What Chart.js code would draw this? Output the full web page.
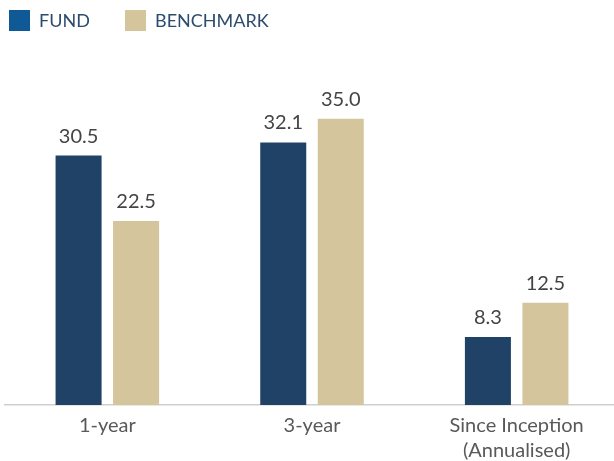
<!DOCTYPE html>
<html>
<head>
<meta charset="utf-8">
<script src="https://cdn.jsdelivr.net/npm/chart.js@4"></script>
<style>
  html, body { margin: 0; padding: 0; background: #fff; overflow: hidden; }
  #wrap { width: 619px; height: 461px; position: relative; }
</style>
</head>
<body>
<div id="wrap"><canvas id="perfChart"></canvas></div>
<script>
// data
var categories = [['1-year'], ['3-year'], ['Since Inception', '(Annualised)']];
var fundValues = [30.5, 32.1, 8.3];
var benchmarkValues = [22.5, 35.0, 12.5];
var seriesNames = ['FUND', 'BENCHMARK'];

var barColors = ['#1f4266', '#d4c59c'];
var legendColors = ['#0f5a96', '#d4c59c'];

// value above each bar
var valueLabels = {
    id: 'valueLabels',
    afterDatasetsDraw: function(chart) {
        var ctx = chart.ctx;
        ctx.save();
        ctx.font = '20px Lato';
        ctx.fillStyle = '#444444';
        ctx.textAlign = 'center';
        ctx.textBaseline = 'alphabetic';
        chart.data.datasets.forEach(function(ds, i) {
            chart.getDatasetMeta(i).data.forEach(function(bar, j) {
                ctx.fillText(ds.data[j].toFixed(1), bar.x, bar.y - 13);
            });
        });
        ctx.restore();
    }
};

// legend row at the top left, spaced like the original
var topLegend = {
    id: 'topLegend',
    afterDraw: function(chart) {
        var ctx = chart.ctx;
        var starts = [9, 125];
        ctx.save();
        ctx.font = '18px Lato';
        ctx.textBaseline = 'middle';
        ctx.textAlign = 'left';
        chart.data.datasets.forEach(function(ds, i) {
            ctx.fillStyle = legendColors[i];
            ctx.fillRect(starts[i], 10, 21, 21);
            ctx.fillStyle = '#2b4c6f';
            ctx.fillText(ds.label, starts[i] + 30, 21);
        });
        ctx.restore();
    }
};

var ctx = document.getElementById('perfChart').getContext('2d');
var chart = new Chart(ctx, {
    type: 'bar',
    data: {
        labels: categories,
        datasets: [{
            label: seriesNames[0],
            data: fundValues,
            backgroundColor: barColors[0]
        }, {
            label: seriesNames[1],
            data: benchmarkValues,
            backgroundColor: barColors[1]
        }]
    },
    options: {
        responsive: true,
        maintainAspectRatio: false,
        animation: false,
        categoryPercentage: 0.562,
        barPercentage: 0.8,
        layout: { padding: { left: 5, right: 0, top: 37, bottom: 0 } },
        plugins: {
            tooltip: { enabled: false },
            legend: { display: false }
        },
        scales: {
            x: {
                grid: { display: false, drawTicks: false },
                border: { display: true, color: '#cfcfcf', width: 1.5 },
                ticks: {
                    color: '#595959',
                    padding: 8,
                    maxRotation: 0,
                    font: { family: 'Lato', size: 20, lineHeight: 1.25 }
                },
                afterFit: function(scale) {
                    scale.height = 56;
                }
            },
            y: {
                display: false,
                min: 0,
                max: 45
            }
        }
    },
    plugins: [valueLabels, topLegend]
});
</script>
</body>
</html>
